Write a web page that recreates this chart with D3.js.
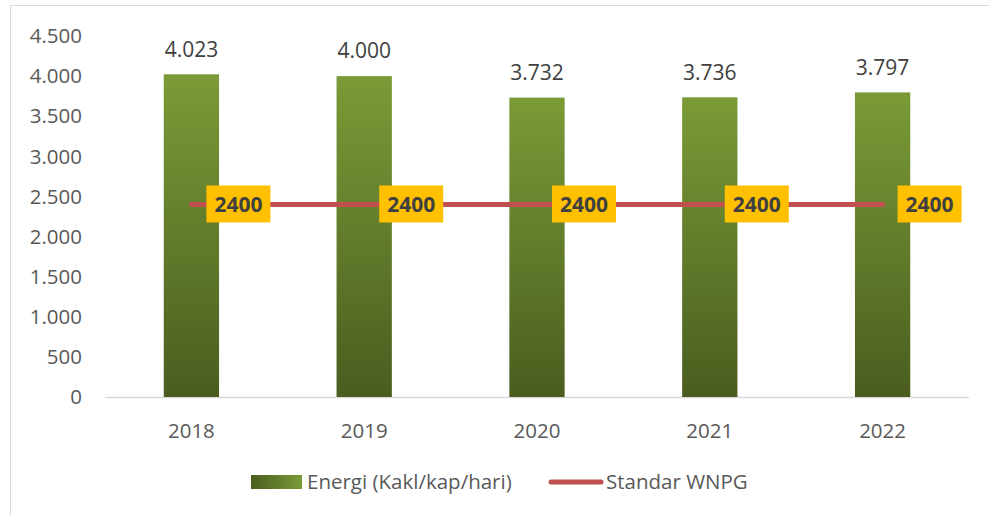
<!DOCTYPE html>
<html>
<head>
<meta charset="utf-8">
<script src="https://cdn.jsdelivr.net/npm/d3@7"></script>
<style>
  body { margin: 0; background: #fff; }
  svg { font-family: "Open Sans", sans-serif; }
</style>
</head>
<body>
<svg width="989" height="515"></svg>
<script>
// chart data
var years = ["2018", "2019", "2020", "2021", "2022"];
var energi = [4023, 4000, 3732, 3736, 3797];
var standar = [2400, 2400, 2400, 2400, 2400];
var yTicks = [0, 500, 1000, 1500, 2000, 2500, 3000, 3500, 4000, 4500];

var svg = d3.select("svg");
var fmt = function (v) { return d3.format(",")(v).replace(/,/g, "."); };

// outer border
svg.append("rect")
  .attr("x", 10.5).attr("y", 5.5)
  .attr("width", 990).attr("height", 520)
  .attr("fill", "none").attr("stroke", "#d9d9d9");

var defs = svg.append("defs");
var gBar = defs.append("linearGradient").attr("id", "barGrad")
  .attr("x1", 0).attr("y1", 0).attr("x2", 0).attr("y2", 1);
gBar.append("stop").attr("offset", "0%").attr("stop-color", "#7a9b37");
gBar.append("stop").attr("offset", "100%").attr("stop-color", "#4a5d1f");
var gLeg = defs.append("linearGradient").attr("id", "legGrad")
  .attr("x1", 0).attr("y1", 0).attr("x2", 1).attr("y2", 0);
gLeg.append("stop").attr("offset", "0%").attr("stop-color", "#4a5d1f");
gLeg.append("stop").attr("offset", "100%").attr("stop-color", "#7a9b37");

var x = d3.scaleBand().domain(years).range([105, 969]).paddingInner(0.68).paddingOuter(0.34);
var y = d3.scaleLinear().domain([0, 4500]).range([397, 36]);

// y axis labels
svg.append("g").selectAll("text").data(yTicks).enter().append("text")
  .attr("x", 82)
  .attr("y", function (d) { return y(d); })
  .attr("dy", "0.35em")
  .attr("text-anchor", "end")
  .attr("font-size", 20.5)
  .attr("fill", "#595959")
  .text(fmt);

// baseline
svg.append("line")
  .attr("x1", 105).attr("x2", 969)
  .attr("y1", y(0) + 0.5).attr("y2", y(0) + 0.5)
  .attr("stroke", "#d9d9d9").attr("stroke-width", 1.5);

// x labels
svg.append("g").selectAll("text").data(years).enter().append("text")
  .attr("x", function (d) { return x(d) + x.bandwidth() / 2; })
  .attr("y", 431)
  .attr("dy", "0.35em")
  .attr("text-anchor", "middle")
  .attr("font-size", 20.5)
  .attr("fill", "#595959")
  .text(function (d) { return d; });

// bars
svg.append("g").selectAll("rect").data(energi).enter().append("rect")
  .attr("x", function (d, i) { return x(years[i]); })
  .attr("y", function (d) { return y(d); })
  .attr("width", x.bandwidth())
  .attr("height", function (d) { return y(0) - y(d); })
  .attr("fill", "url(#barGrad)");

// bar value labels
svg.append("g").selectAll("text").data(energi).enter().append("text")
  .attr("x", function (d, i) { return x(years[i]) + x.bandwidth() / 2; })
  .attr("y", function (d) { return y(d) - 25; })
  .attr("dy", "0.35em")
  .attr("text-anchor", "middle")
  .attr("font-size", 21)
  .attr("fill", "#404040")
  .text(fmt);

// standard line
var line = d3.line()
  .x(function (d, i) { return x(years[i]) + x.bandwidth() / 2; })
  .y(function (d) { return y(d); });
svg.append("path").datum(standar)
  .attr("d", line)
  .attr("fill", "none")
  .attr("stroke", "#c0504d")
  .attr("stroke-width", 5)
  .attr("stroke-linecap", "round");

// line labels
var lab = svg.append("g").selectAll("g").data(standar).enter().append("g")
  .attr("transform", function (d, i) {
    return "translate(" + (x(years[i]) + x.bandwidth() / 2 + 15) + "," + y(d) + ")";
  });
lab.append("rect")
  .attr("x", 0).attr("y", -19)
  .attr("width", 64).attr("height", 37)
  .attr("fill", "#ffc000");
lab.append("text")
  .attr("x", 32).attr("y", 0)
  .attr("dy", "0.35em")
  .attr("text-anchor", "middle")
  .attr("font-size", 21)
  .attr("font-weight", "bold")
  .attr("fill", "#404040")
  .text(function (d) { return d; });

// legend
var leg = svg.append("g");
leg.append("rect")
  .attr("x", 251).attr("y", 475)
  .attr("width", 51).attr("height", 14)
  .attr("fill", "url(#legGrad)");
leg.append("text")
  .attr("x", 307).attr("y", 482)
  .attr("dy", "0.35em")
  .attr("font-size", 20.5)
  .attr("fill", "#595959")
  .text("Energi (Kakl/kap/hari)");
leg.append("line")
  .attr("x1", 551).attr("x2", 601)
  .attr("y1", 482).attr("y2", 482)
  .attr("stroke", "#c0504d").attr("stroke-width", 5)
  .attr("stroke-linecap", "round");
leg.append("text")
  .attr("x", 606).attr("y", 482)
  .attr("dy", "0.35em")
  .attr("font-size", 20.5)
  .attr("fill", "#595959")
  .text("Standar WNPG");
</script>
</body>
</html>
